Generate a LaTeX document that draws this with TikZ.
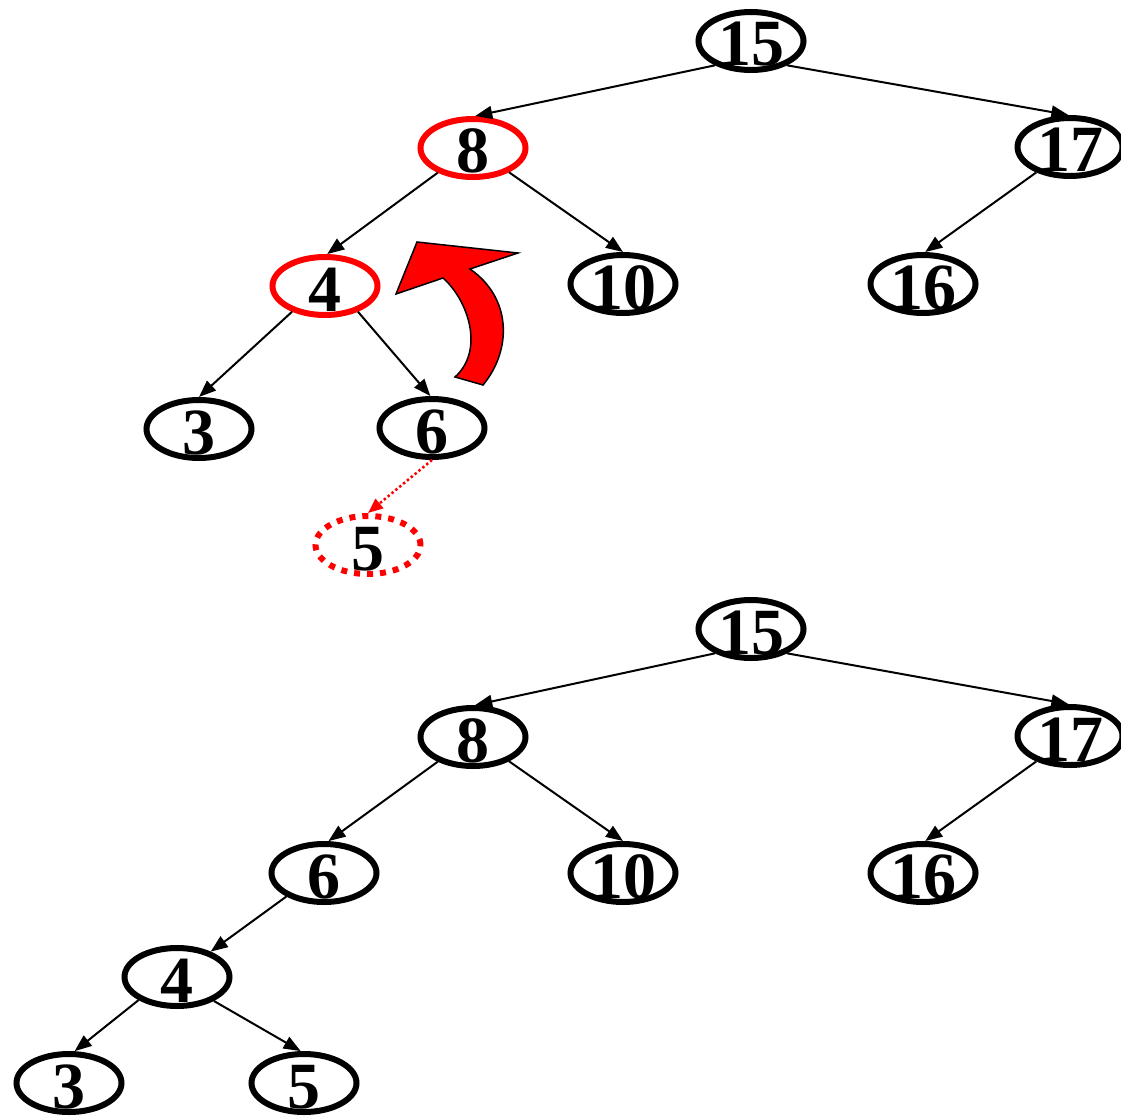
\documentclass[tikz,border=0pt]{standalone}
\usepackage{fontspec}
\setmainfont{Liberation Serif}
\usetikzlibrary{arrows.meta,shapes.geometric}
\newcommand{\dg}[1]{\raisebox{-25pt}[0pt][0pt]{#1}}
\begin{document}
\begin{tikzpicture}[x=1pt,y=-1pt,
  tnode/.style={ellipse, draw=black, line width=6pt, minimum width=105pt, minimum height=58pt, inner sep=0pt, font=\fontsize{66}{66}\selectfont\bfseries},
  rnode/.style={tnode, draw=red},
  dnode/.style={tnode, draw=red, dash pattern=on 6pt off 7pt},
  conn/.style={line width=2pt, -{Triangle[length=17pt,width=13pt]}},
  dconn/.style={red, line width=2.5pt, dash pattern=on 2.5pt off 2.5pt, -{Triangle[length=15pt,width=12pt]}},
]
\useasboundingbox (0,0) rectangle (1121,1118);

% ---- top tree ----
\node[tnode] (a15) at (751,41) {\dg{15}};
\node[rnode] (a8) at (473,148) {\dg{8}};
\node[tnode] (a17) at (1070,147) {\dg{17}};
\node[rnode] (a4) at (325,286) {\dg{4}};
\node[tnode] (a10) at (623,284) {\dg{10}};
\node[tnode] (a16) at (923,284) {\dg{16}};
\node[tnode] (a3) at (199,429) {\dg{3}};
\node[tnode] (a6) at (432,428) {\dg{6}};
\node[dnode] (a5) at (368,545) {\dg{5}};

\draw[conn] (a15.214) -- (a8.86);
\draw[conn] (a15.326) -- (a17.93);
\draw[conn] (a8.215) -- (a4.86);
\draw[conn] (a8.326) -- (a10.90);
\draw[conn] (a17.217) -- (a16.86);
\draw[conn] (a4.218) -- (a3.90);
\draw[conn] (a4.322) -- (a6.93);
\draw[dconn] (a6.270) -- (a5.90);

% red curved arrow
\draw[fill=red, line width=1.5pt, line join=miter]
  (455,377) -- (483,385) .. controls (512,350) and (512,298) .. (470,269)
  -- (518,253) -- (417,242) -- (396,294) -- (443,278)
  .. controls (468,300) and (485,350) .. (455,377) -- cycle;

% ---- bottom tree ----
\node[tnode] (b15) at (751,629) {\dg{15}};
\node[tnode] (b8) at (473,737) {\dg{8}};
\node[tnode] (b17) at (1070,736) {\dg{17}};
\node[tnode] (b6) at (324,873) {\dg{6}};
\node[tnode] (b10) at (623,873) {\dg{10}};
\node[tnode] (b16) at (923,873) {\dg{16}};
\node[tnode] (b4) at (177,977) {\dg{4}};
\node[tnode] (b3) at (69,1083) {\dg{3}};
\node[tnode] (b5) at (304,1083) {\dg{5}};

\draw[conn] (b15.214) -- (b8.86);
\draw[conn] (b15.326) -- (b17.93);
\draw[conn] (b8.215) -- (b6.82);
\draw[conn] (b8.326) -- (b10.90);
\draw[conn] (b17.217) -- (b16.86);
\draw[conn] (b6.212) -- (b4.37);
\draw[conn] (b4.211) -- (b3.80);
\draw[conn] (b4.327) -- (b5.96);
\end{tikzpicture}
\end{document}
